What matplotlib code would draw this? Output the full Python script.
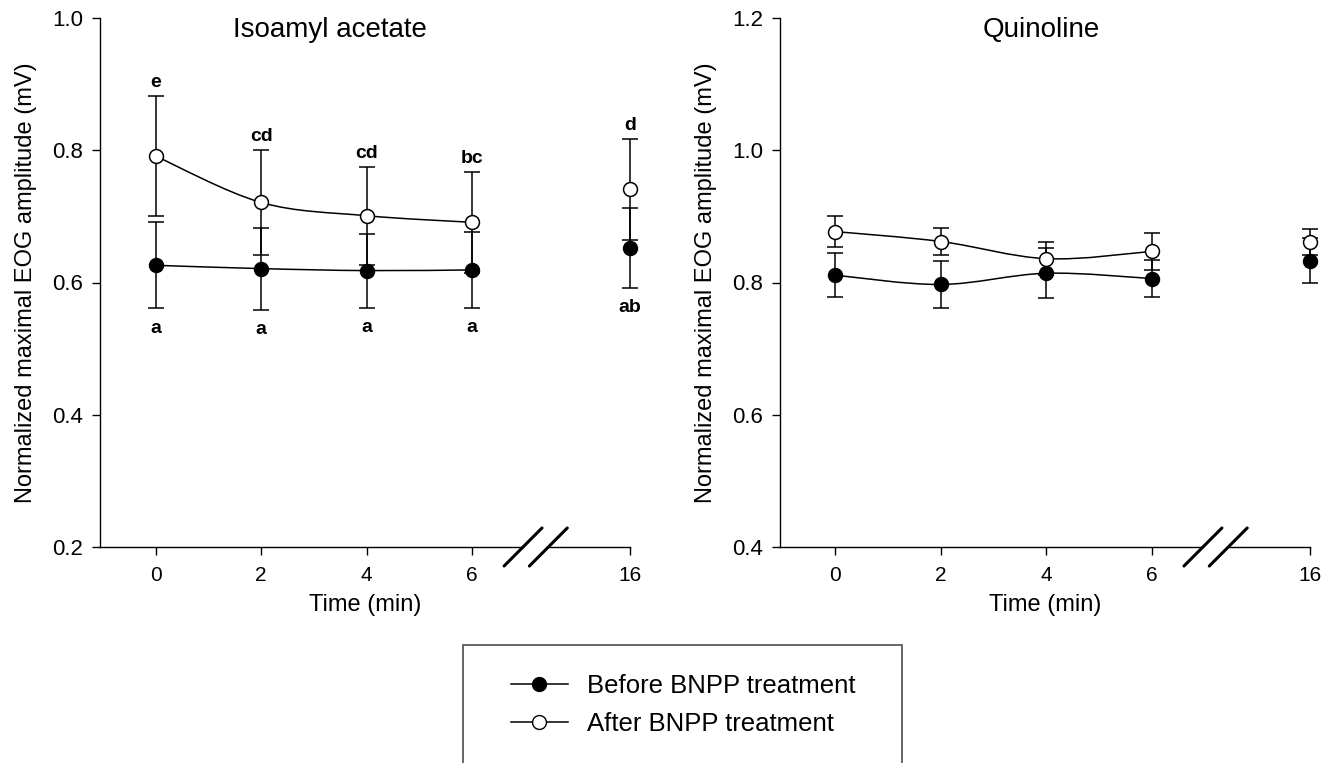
import numpy as np
import matplotlib
matplotlib.use('Agg')
import matplotlib.pyplot as plt
from matplotlib.path import Path
from matplotlib.patches import PathPatch, Rectangle
from matplotlib.lines import Line2D

plt.rcParams['font.family'] = ['Liberation Sans', 'DejaVu Sans']

# data
times = [0, 2, 4, 6, 16]
tick_labels = ['0', '2', '4', '6', '16']

iso_before = [0.626, 0.621, 0.618, 0.619, 0.652]
iso_before_err = [0.065, 0.062, 0.056, 0.057, 0.060]
iso_after = [0.791, 0.721, 0.701, 0.691, 0.741]
iso_after_err = [0.091, 0.080, 0.074, 0.076, 0.076]
iso_letters_top = ['e', 'cd', 'cd', 'bc', 'd']
iso_letters_bottom = ['a', 'a', 'a', 'a', 'ab']

quin_before = [0.811, 0.797, 0.814, 0.806, 0.833]
quin_before_err = [0.033, 0.036, 0.038, 0.028, 0.034]
quin_after = [0.877, 0.862, 0.836, 0.847, 0.861]
quin_after_err = [0.023, 0.021, 0.025, 0.028, 0.020]

W, H = 1332, 763


def axis_pos(t):
    # broken axis: 16 min sits just after the break
    return t if t <= 6 else t - 7


def smooth_path(xs, ys):
    pts = list(zip(xs, ys))
    n = len(pts)
    verts = [pts[0]]
    codes = [Path.MOVETO]
    for i in range(n - 1):
        p0 = pts[max(i - 1, 0)]
        p1 = pts[i]
        p2 = pts[i + 1]
        p3 = pts[min(i + 2, n - 1)]
        c1 = (p1[0] + (p2[0] - p0[0]) / 6, p1[1] + (p2[1] - p0[1]) / 6)
        c2 = (p2[0] - (p3[0] - p1[0]) / 6, p2[1] - (p3[1] - p1[1]) / 6)
        verts += [c1, c2, p2]
        codes += [Path.CURVE4] * 3
    return Path(verts, codes)


def panel(ax, before, before_err, after, after_err, ylim, yticks, title, title_x,
          top_letters=None, bottom_letters=None, xmin=-1.06):
    pos = [axis_pos(t) for t in times]
    for vals, err, face in [(before, before_err, 'k'), (after, after_err, 'white')]:
        ax.errorbar(pos, vals, yerr=err, fmt='none', ecolor='k', elinewidth=1.1,
                    capsize=6, capthick=1.1, zorder=1, clip_on=False)
        ax.add_patch(PathPatch(smooth_path(pos[:4], vals[:4]), fc='none', ec='k',
                               lw=1.1, zorder=2))
        ax.plot(pos, vals, 'o', ms=10, mfc=face, mec='k', mew=1.1, zorder=3,
                clip_on=False)

    if top_letters:
        for p, v, e, s in zip(pos, after, after_err, top_letters):
            ax.annotate(s, (p, v + e), xytext=(0, 6.5), textcoords='offset points',
                        ha='center', va='baseline', fontsize=14, fontweight='bold')
    if bottom_letters:
        for p, v, e, s in zip(pos, before, before_err, bottom_letters):
            ax.annotate(s, (p, v - e), xytext=(0, -17.5), textcoords='offset points',
                        ha='center', va='baseline', fontsize=14, fontweight='bold')

    ax.set_xlim(xmin, 9)
    ax.set_ylim(*ylim)
    ax.set_yticks(yticks)
    ax.set_yticklabels(['%.1f' % y for y in yticks])
    ax.set_xticks(pos)
    ax.set_xticklabels(tick_labels)
    ax.tick_params(direction='out', length=6, width=1)
    ax.tick_params(axis='x', labelsize=15, pad=8)
    ax.tick_params(axis='y', labelsize=16, pad=6)

    for s in ['top', 'right', 'bottom']:
        ax.spines[s].set_visible(False)
    ax.spines['left'].set_linewidth(1)

    # x axis line with break marks
    tr = ax.get_xaxis_transform()
    b1, b2 = 6.97, 7.45
    ax.plot([xmin, b1], [0, 0], color='k', lw=1, transform=tr, clip_on=False)
    ax.plot([b2, 9], [0, 0], color='k', lw=1, transform=tr, clip_on=False)
    for c in (b1, b2):
        ax.plot([c - 0.36, c + 0.36], [-0.036, 0.036], color='k', lw=2.2,
                transform=tr, clip_on=False, solid_capstyle='round')

    ax.set_xlabel('Time (min)', fontsize=17, labelpad=6)
    ax.set_ylabel('Normalized maximal EOG amplitude (mV)', fontsize=17, labelpad=11)
    ax.text(title_x, 0.977, title, transform=tr, ha='center', va='center', fontsize=20)


fig = plt.figure(figsize=(W / 100, H / 100), dpi=100)
ax1 = fig.add_axes([100 / W, 1 - 547 / H, 530 / W, 529 / H])
ax2 = fig.add_axes([780 / W, 1 - 547 / H, 530 / W, 529 / H])

panel(ax1, iso_before, iso_before_err, iso_after, iso_after_err, (0.2, 1.0),
      [0.2, 0.4, 0.6, 0.8, 1.0], 'Isoamyl acetate', 3.3,
      iso_letters_top, iso_letters_bottom, xmin=-1.06)
panel(ax2, quin_before, quin_before_err, quin_after, quin_after_err, (0.4, 1.2),
      [0.4, 0.6, 0.8, 1.0, 1.2], 'Quinoline', 3.9, xmin=-1.05)

handles = [Line2D([], [], color='k', lw=1.1, marker='o', ms=10, mfc='k', mec='k'),
           Line2D([], [], color='k', lw=1.1, marker='o', ms=10, mfc='white', mec='k')]
fig.legend(handles, ['Before BNPP treatment', 'After BNPP treatment'],
           loc='center left', bbox_to_anchor=(488 / W, 1 - 705 / H), frameon=False,
           fontsize=18.5, handlelength=2.2, handletextpad=0.75, labelspacing=0.55)
fig.add_artist(Rectangle((463 / W, -0.1), (902 - 463) / W, 0.1 + 1 - 645 / H,
                         transform=fig.transFigure, fill=False, ec='0.3', lw=1.2))

fig.savefig('out.png', dpi=100)
